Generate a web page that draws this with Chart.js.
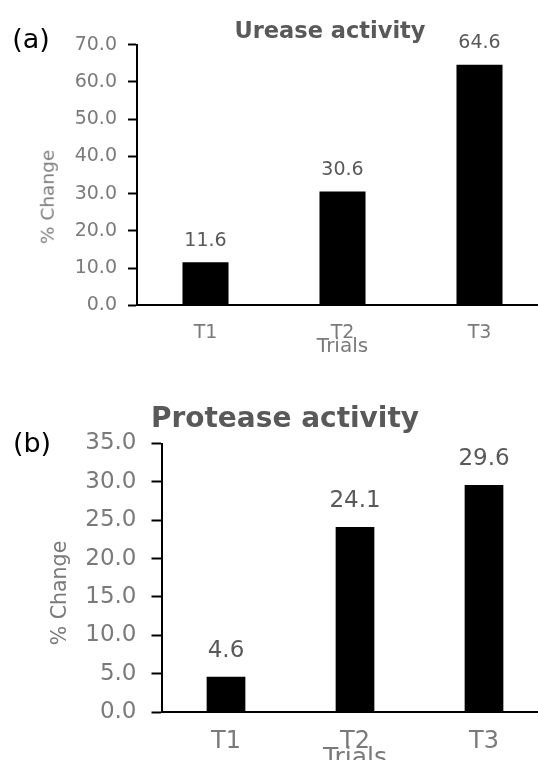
<!DOCTYPE html>
<html>
<head>
<meta charset="utf-8">
<script src="https://cdn.jsdelivr.net/npm/chart.js@4/dist/chart.umd.min.js"></script>
<style>
    body { margin: 0; background: #fff; }
    .page { position: relative; width: 538px; height: 760px; overflow: hidden; background: #fff; font-family: 'DejaVu Sans', sans-serif; }
    canvas { position: absolute; left: 0; }
    .txt { position: absolute; white-space: nowrap; line-height: 1; transform: translate(-50%, -50%); }
    .panel { color: #000; font-size: 27px; }
    .title { color: #595959; font-weight: bold; }
    .ytitle { color: #7a7a7a; transform: translate(-50%, -50%) rotate(-90deg); }
</style>
</head>
<body>
<div class="page">
    <canvas id="ureaseChart" width="560" height="380" style="top:0;width:560px;height:380px;"></canvas>
    <canvas id="proteaseChart" width="560" height="400" style="top:380px;width:560px;height:400px;"></canvas>

    <div class="txt panel" style="left:31px;top:38px;">(a)</div>
    <div class="txt title" style="left:330px;top:30px;font-size:22.5px;">Urease activity</div>
    <div class="txt ytitle" style="left:48px;top:197px;font-size:18.5px;">% Change</div>

    <div class="txt panel" style="left:32px;top:442px;">(b)</div>
    <div class="txt title" style="left:285px;top:418px;font-size:28px;">Protease activity</div>
    <div class="txt ytitle" style="left:59px;top:593px;font-size:20.5px;">% Change</div>
</div>

<script>
const trials = ['T1', 'T2', 'T3'];
const ureaseChange = [11.6, 30.6, 64.6];
const proteaseChange = [4.6, 24.1, 29.6];
const ureaseTicks = [0, 10, 20, 30, 40, 50, 60, 70];
const proteaseTicks = [0, 5, 10, 15, 20, 25, 30, 35];

const FONT = 'DejaVu Sans';

// draws the value above each bar
const barValues = {
    id: 'barValues',
    afterDatasetsDraw(chart, args, opts) {
        const ctx = chart.ctx;
        const meta = chart.getDatasetMeta(0);
        const values = chart.data.datasets[0].data;
        ctx.save();
        ctx.font = `${opts.size}px '${FONT}'`;
        ctx.fillStyle = '#595959';
        ctx.textAlign = 'center';
        ctx.textBaseline = 'middle';
        meta.data.forEach((bar, i) => {
            ctx.fillText(values[i].toFixed(1), bar.x, bar.y - opts.offset);
        });
        ctx.restore();
    }
};

function makeChart(id, values, ticks, cfg) {
    const max = ticks[ticks.length - 1];
    return new Chart(document.getElementById(id), {
        type: 'bar',
        data: {
            labels: trials,
            datasets: [{
                data: values,
                backgroundColor: '#000',
                borderWidth: 0,
                categoryPercentage: 1,
                barPercentage: cfg.barPct
            }]
        },
        options: {
            responsive: false, animation: false, devicePixelRatio: 1,
            layout: { padding: { left: 0, right: cfg.padRight, top: cfg.padTop, bottom: 0 } },
            plugins: {
                legend: { display: false }, tooltip: { enabled: false },
                barValues: { size: cfg.valueSize, offset: cfg.valueOffset }
            },
            scales: {
                x: {
                    grid: { display: false, drawTicks: false },
                    border: { color: '#000', width: 2 },
                    ticks: { color: '#7a7a7a', font: { family: FONT, size: cfg.xSize }, padding: cfg.xPad },
                    title: { display: true, text: 'Trials', color: '#7a7a7a', font: { family: FONT, size: cfg.xSize + 1 }, padding: { top: 0, bottom: cfg.trialsPad } },
                    afterFit: s => { s.height = cfg.xHeight; }
                },
                y: {
                    min: 0, max: max,
                    afterBuildTicks: s => { s.ticks = ticks.map(v => ({ value: v })); },
                    grid: { drawOnChartArea: false, drawTicks: true, tickLength: cfg.tickLen, tickColor: '#000', tickWidth: 2 },
                    border: { color: '#000', width: 2 },
                    ticks: { color: '#7a7a7a', font: { family: FONT, size: cfg.ySize }, padding: cfg.yPad, callback: v => v.toFixed(1) },
                    afterFit: s => { s.width = cfg.yWidth; }
                }
            }
        },
        plugins: [barValues]
    });
}

makeChart('ureaseChart', ureaseChange, ureaseTicks, {
    barPct: 0.336, padRight: 12, padTop: 44.6, xHeight: 74.6, yWidth: 137,
    tickLen: 9, yPad: 11, ySize: 19, xSize: 19, xPad: 16.2, trialsPad: 21,
    valueSize: 19, valueOffset: 21.5
});

makeChart('proteaseChart', proteaseChange, proteaseTicks, {
    barPct: 0.30, padRight: 11.5, padTop: 63.5, xHeight: 68, yWidth: 161.5,
    tickLen: 10, yPad: 15, ySize: 23, xSize: 24, xPad: 15.6, trialsPad: 6.6,
    valueSize: 23, valueOffset: 26
});
</script>
</body>
</html>
